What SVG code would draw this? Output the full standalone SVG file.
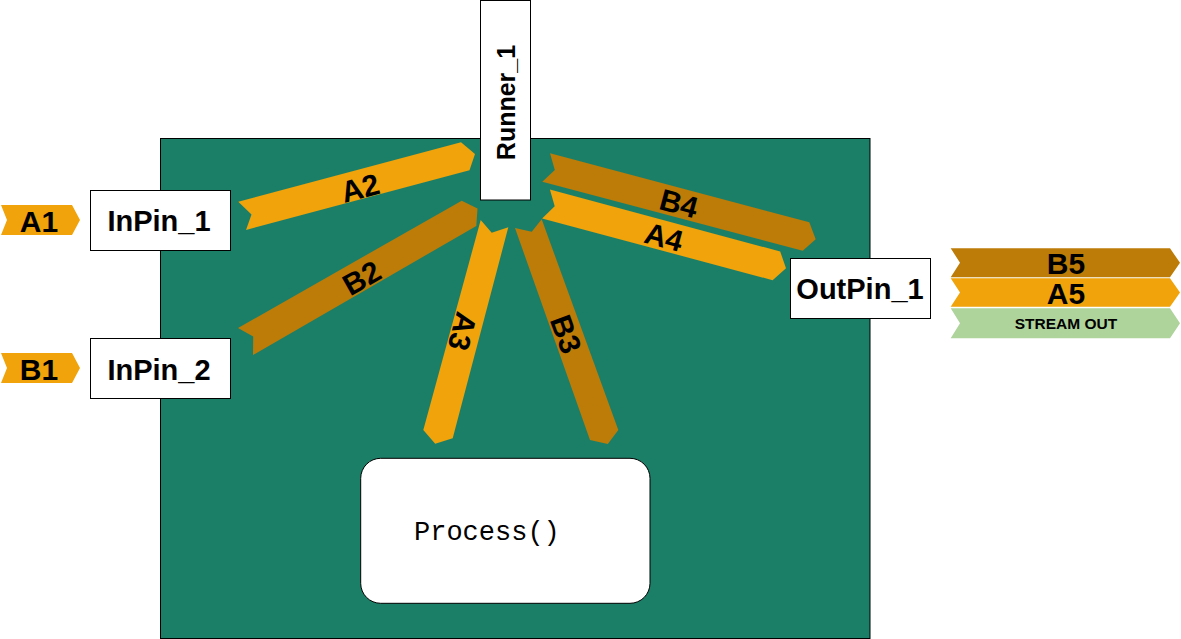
<svg xmlns="http://www.w3.org/2000/svg" width="1181" height="639" viewBox="0 0 1181 639">
<style>
.lbl{font-family:"Liberation Sans",Arial,sans-serif;font-weight:bold;font-size:30px;fill:#000;text-anchor:middle}
.pin{font-size:29px}
.box{fill:#fff;stroke:#000;stroke-width:1}
.a{fill:#F0A30A}
.b{fill:#BD7C07}
.s{fill:#AED39B}
</style>
<rect x="0" y="0" width="1181" height="639" fill="#fff"/>
<g id="container">
<rect x="160.5" y="138.5" width="709.5" height="500" fill="#1B7F68" stroke="#000" stroke-width="1"/>
</g>
<g id="connectors">
<g id="arrow-A2">
<polygon class="a" points="238.3,201.7 461,142.3 475,154 469.5,170.3 246,230 251.5,214.5"/>
<text class="lbl" transform="translate(360,187.5) rotate(-15)" y="11">A2</text>
</g>
<g id="arrow-B2">
<polygon class="b" points="238,328 461.7,200.7 477.5,208.5 476.3,226 253,355 253.2,336.6"/>
<text class="lbl" transform="translate(361.5,277.5) rotate(-29.6)" y="11">B2</text>
</g>
<g id="arrow-A3">
<polygon class="a" points="480.7,220 423.3,430 435.2,443.8 452.7,438.3 508.3,227.3 491.7,232.7"/>
<text class="lbl" transform="translate(463,331.5) rotate(105)" y="11">A3</text>
</g>
<g id="arrow-B3">
<polygon class="b" points="515,228 590,440 607.8,444 618.3,430 541.7,219.3 531.7,231.7"/>
<text class="lbl" transform="translate(566.5,334) rotate(70)" y="11">B3</text>
</g>
<g id="arrow-B4">
<polygon class="b" points="550,153.3 809.3,222.3 815.7,239.3 802.7,250.7 542.3,181.7 554.8,170"/>
<text class="lbl" transform="translate(679,203) rotate(15)" y="11">B4</text>
</g>
<g id="arrow-A4">
<polygon class="a" points="549.9,189.5 780.2,251.5 786,268.3 772.6,280.2 542.1,218.5 554.7,206.3"/>
<text class="lbl" transform="translate(664,236.5) rotate(15)" y="11">A4</text>
</g>
</g>
<g id="runner">
<rect class="box" x="480.5" y="0.5" width="50" height="199.5"/>
<text class="lbl" transform="translate(506,102.5) rotate(-90)" y="9" style="font-size:25px">Runner_1</text>
</g>
<g id="inpin1">
<rect class="box" x="90.5" y="190.5" width="140" height="60"/>
<text class="lbl pin" x="159" y="231">InPin_1</text>
</g>
<g id="inpin2">
<rect class="box" x="90.5" y="338.5" width="140" height="60"/>
<text class="lbl pin" x="159" y="379.5">InPin_2</text>
</g>
<g id="outpin1">
<rect class="box" x="790.5" y="258.5" width="140" height="60"/>
<text class="lbl pin" x="860" y="298.5">OutPin_1</text>
</g>
<g id="a1">
<polygon class="a" points="1,205 72,205 80,220 72,235 1,235 7,220"/>
<text class="lbl" x="39" y="231.5">A1</text>
</g>
<g id="b1">
<polygon class="a" points="1,353 72,353 80,368 72,383 1,383 7,368"/>
<text class="lbl" x="39" y="379.5">B1</text>
</g>
<g id="b5">
<polygon class="b" points="950.7,248.3 1170,248.3 1180,262.8 1170,277.3 950.7,277.3 960,262.8"/>
<text class="lbl" x="1066" y="273.5">B5</text>
</g>
<g id="a5">
<polygon class="a" points="950.7,278.3 1170,278.3 1180,292.5 1170,306.7 950.7,306.7 960,292.5"/>
<text class="lbl" x="1066" y="303.5">A5</text>
</g>
<g id="streamout">
<polygon class="s" points="950.7,308.3 1170,308.3 1180,323.3 1170,338.3 950.7,338.3 960,323.3"/>
<text class="lbl" x="1066" y="328.5" style="font-size:15.5px">STREAM OUT</text>
</g>
<g id="process">
<rect class="box" x="360.7" y="458.3" width="289.3" height="145" rx="20" ry="20"/>
<text x="414" y="540" style="font-family:'Courier New','Liberation Mono',monospace;font-size:27px;fill:#000">Process()</text>
</g>
</svg>
